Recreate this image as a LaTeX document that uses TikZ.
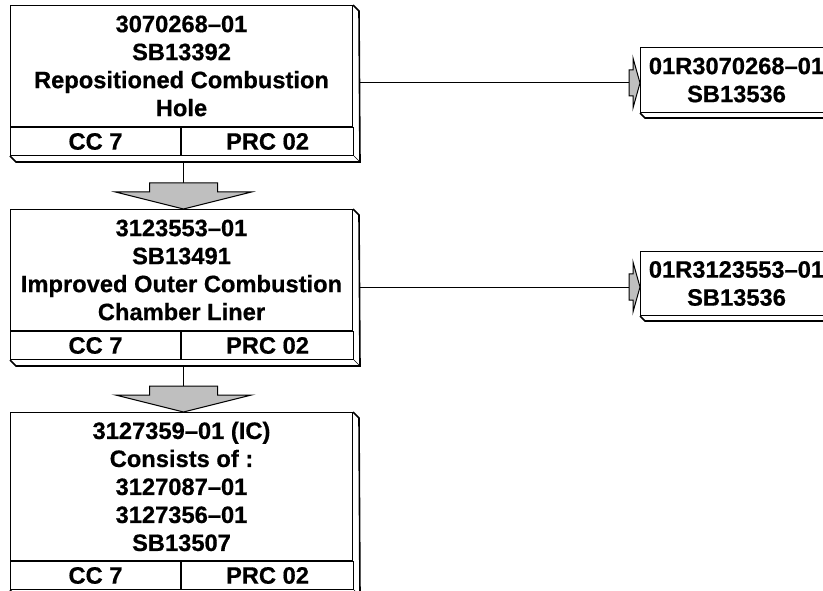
\documentclass[tikz,border=0pt]{standalone}
\usepackage{fontspec}
\setmainfont{Liberation Sans}[BoldFeatures={FakeBold=0.6}]

\tikzset{
  face/.style={draw, line width=1pt, inner sep=0pt, align=center,
    font=\fontsize{23.7}{28}\selectfont\bfseries},
  cell/.style={face, minimum height=28pt, anchor=north west},
  bevel/.style={line width=1.6pt},
  blockarrow/.style={draw, line width=1pt, fill=gray!50}
}

\begin{document}
\begin{tikzpicture}[x=1pt,y=-1pt]
  \useasboundingbox (0,0) rectangle (823,591);
  \clip (0,0) rectangle (823,591);

  % Draw the bulletin boxes
  \node[face, anchor=north west, minimum width=342pt, minimum height=121pt] (top1) at (10,5)
    {3070268–01\\SB13392\\Repositioned Combustion\\Hole};
  \node[face, anchor=north west, minimum width=342pt, minimum height=121pt] (top2) at (10,209)
    {3123553–01\\SB13491\\Improved Outer Combustion\\Chamber Liner};
  \node[face, anchor=north west, minimum width=342pt, minimum height=148pt] (top3) at (10,412)
    {3127359–01 (IC)\\Consists of :\\3127087–01\\3127356–01\\SB13507};

  % Draw the code cells
  \foreach \b in {1,2,3}{
    \node[cell, minimum width=170pt] (cc\b) at (top\b.south west) {CC 7};
    \node[cell, minimum width=172pt] (prc\b) at (cc\b.north east) {PRC 02};
  }

  % Draw the bevel round the boxes
  \foreach \b in {1,2,3}{
    \draw[bevel] (top\b.north east) -- ++(6,6) -- ([shift={(6,6)}]prc\b.south east)
      -- ([shift={(6,6)}]cc\b.south west) coordinate (bot\b) -- (cc\b.south west);
    \draw (prc\b.south east) -- ++(6,6);
  }

  % Draw the repair boxes
  \node[face, anchor=north west, minimum width=192pt, minimum height=65pt] (r1) at (640,47)
    {01R3070268–01\\SB13536};
  \node[face, anchor=north west, minimum width=192pt, minimum height=64pt] (r2) at (640,251)
    {01R3123553–01\\SB13536};
  \foreach \b in {1,2}{
    \draw[bevel] (r\b.north east) -- ++(5,5) -- ([shift={(5,5)}]r\b.south east)
      -- ([shift={(5,5)}]r\b.south west) -- (r\b.south west);
  }

  % Draw the down arrows
  \foreach \b/\a in {2/1,3/2}{
    \coordinate (d\b) at ([xshift=2pt]top\b.north);
    \coordinate (u\b) at ([yshift=26pt]d\b);
    \draw[line width=1pt] (u\b) -- (u\b |- bot\a);
    \draw[blockarrow] (d\b) -- ++(-68,-17) -- ++(34,0) -- ++(0,-9) -- ++(68,0)
      -- ++(0,9) -- ++(34,0) -- cycle;
  }

  % Draw the side arrows
  \foreach \b in {1,2}{
    \coordinate (h\b) at ([shift={(6,17)}]top\b.east);
    \coordinate (p\b) at (h\b -| r\b.west);
    \draw[line width=1pt] (h\b) -- ([xshift=-11pt]p\b);
    \draw[blockarrow] (p\b) -- ++(-7,-25) -- ++(0,12) -- ++(-4,0) -- ++(0,26)
      -- ++(4,0) -- ++(0,12) -- cycle;
  }
\end{tikzpicture}
\end{document}
